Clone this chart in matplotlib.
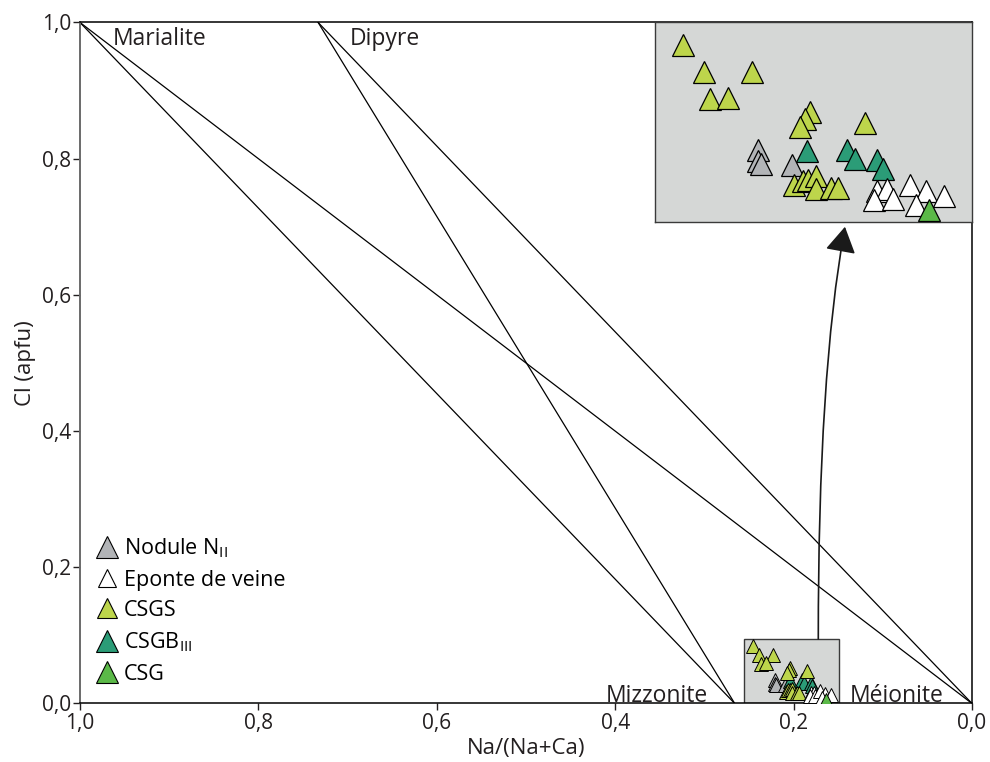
import numpy as np
import matplotlib
matplotlib.use("Agg")
import matplotlib.pyplot as plt
from matplotlib.path import Path
from matplotlib.patches import Rectangle, FancyArrowPatch
from matplotlib.lines import Line2D

plt.rcParams["font.family"] = ["Open Sans", "DejaVu Sans"]
plt.rcParams["mathtext.fontset"] = "custom"
plt.rcParams["mathtext.rm"] = "Open Sans"
plt.rcParams["mathtext.it"] = "Open Sans"

# %% data

# end-members of the scapolite series: Na/(Na+Ca), Cl
endmember_names = ["Marialite", "Dipyre", "Mizzonite", "Méionite"]
endmember_x = [1.0, 0.733, 0.266, 0.0]
endmember_y = [1.0, 1.0, 0.0, 0.0]
tie_lines = [(0, 2), (0, 3), (1, 2), (1, 3)]

nodule_x = [0.221, 0.221, 0.220, 0.2095]
nodule_y = [0.034, 0.029, 0.0275, 0.027]

eponte_x = [0.181, 0.1775, 0.182, 0.1755, 0.170, 0.1645, 0.1585, 0.168]
eponte_y = [0.0147, 0.0157, 0.0105, 0.011, 0.0176, 0.0144, 0.012, 0.008]

csgs_x = [0.246, 0.239, 0.223, 0.237, 0.231, 0.2035, 0.205, 0.207,
          0.185, 0.209, 0.206, 0.204, 0.2015, 0.2015, 0.1965, 0.194]
csgs_y = [0.084, 0.071, 0.071, 0.0585, 0.059, 0.052, 0.049, 0.045,
          0.047, 0.0175, 0.0195, 0.020, 0.0215, 0.0155, 0.016, 0.016]

csgb_x = [0.2045, 0.191, 0.1885, 0.181, 0.179]
csgb_y = [0.0335, 0.034, 0.030, 0.0295, 0.025]

csg_x = [0.1635]
csg_y = [0.0057]

ticks = [0.0, 0.2, 0.4, 0.6, 0.8, 1.0]
tick_labels = ["0,0", "0,2", "0,4", "0,6", "0,8", "1,0"]

# zoom window (data) and where it is magnified
zoom_x = (0.2556, 0.1491)
zoom_y = (0.0, 0.0947)
mag_x0, mag_y0 = 0.3556, 0.7075

# %% styles
series = [
    (nodule_x, nodule_y, "#b2b4b7", r"Nodule N$_{\mathrm{II}}$", 16),
    (csgb_x, csgb_y, "#2b9c77", r"CSGB$_{\mathrm{III}}$", 16),
    (csgs_x, csgs_y, "#bdd54b", "CSGS", 14),
    (eponte_x, eponte_y, "#ffffff", "Eponte de veine", 12.5),
    (csg_x, csg_y, "#5bb948", "CSG", 16),
]
legend_order = [0, 3, 2, 1, 4]
box_color = "#d5d7d6"
text_color = "#231f20"

# %% figure
fig = plt.figure(figsize=(9.9, 7.62), dpi=100)
ax = fig.add_axes([0.0808, 0.0768, 0.9010, 0.8937])

for i, j in tie_lines:
    ax.plot([endmember_x[i], endmember_x[j]], [endmember_y[i], endmember_y[j]],
            color="k", lw=0.9, zorder=1)

ax.text(endmember_x[0] - 0.037, endmember_y[0] - 0.033, endmember_names[0],
        fontsize=16.5, ha="left", va="baseline", color=text_color)
ax.text(endmember_x[1] - 0.035, endmember_y[1] - 0.033, endmember_names[1],
        fontsize=16.5, ha="left", va="baseline", color=text_color)
ax.text(endmember_x[2] + 0.030, endmember_y[2] + 0.002, endmember_names[2],
        fontsize=16.5, ha="right", va="baseline", color=text_color)
ax.text(endmember_x[3] + 0.137, endmember_y[3] + 0.002, endmember_names[3],
        fontsize=16.5, ha="left", va="baseline", color=text_color)

# small zoom window
ax.add_patch(Rectangle((zoom_x[0], zoom_y[0]), zoom_x[1] - zoom_x[0],
                       zoom_y[1] - zoom_y[0], facecolor=box_color,
                       edgecolor="#3a3a3a", lw=1.0, zorder=2))
for xs, ys, c, lab, ms in series:
    ax.plot(xs, ys, ls="none", marker="^", ms=9.5, mfc=c, mec="k",
            mew=0.7, zorder=3)

# curved arrow to the magnified window
arrow_path = Path(
    [(0.1723, zoom_y[1]), (0.1726, 0.482), (0.1424, 0.700)],
    [Path.MOVETO, Path.CURVE3, Path.CURVE3],
)
arrow = FancyArrowPatch(
    path=arrow_path,
    arrowstyle="-|>,head_length=1.6,head_width=0.95",
    mutation_scale=10, color="#1a1a1a", lw=1.2, shrinkA=0, shrinkB=0,
    transform=ax.transData, zorder=4,
)
ax.add_patch(arrow)

ax.set_xlim(1.0, 0.0)
ax.set_ylim(0.0, 1.0)
ax.set_xticks(ticks)
ax.set_xticklabels(tick_labels)
ax.set_yticks(ticks)
ax.set_yticklabels(tick_labels)
ax.tick_params(direction="out", length=5, width=1, labelsize=15,
               pad=1.5, colors=text_color)
ax.set_xlabel("Na/(Na+Ca)", fontsize=16, labelpad=3, color=text_color)
ax.set_ylabel("Cl (apfu)", fontsize=16, labelpad=4, color=text_color)
for s in ["top", "right", "bottom"]:
    ax.spines[s].set_color("k")
    ax.spines[s].set_linewidth(1.1)
ax.spines["left"].set_color("#6a6a6a")
ax.spines["left"].set_linewidth(1.4)

# magnified window
axin = ax.inset_axes([1 - mag_x0, mag_y0, mag_x0, 1 - mag_y0])
axin.set_facecolor(box_color)
for xs, ys, c, lab, ms in series:
    axin.plot(xs, ys, ls="none", marker="^", ms=16.5, mfc=c, mec="k",
              mew=0.9, zorder=3)
axin.set_xlim(*zoom_x)
axin.set_ylim(*zoom_y)
axin.set_xticks([])
axin.set_yticks([])
for s in axin.spines.values():
    s.set_color("#3a3a3a")
    s.set_linewidth(1.0)

# legend
handles = []
labels = []
for k in legend_order:
    xs, ys, c, lab, ms = series[k]
    handles.append(Line2D([], [], ls="none", marker="^", ms=ms, mfc=c,
                          mec="k", mew=0.8))
    labels.append(lab)
ax.legend(handles, labels, loc="lower left", bbox_to_anchor=(0.0056, 0.012),
          frameon=False, fontsize=15.5, handlelength=1.0, handletextpad=0.3,
          labelspacing=0.44, borderaxespad=0.3, borderpad=0.2)

fig.savefig("out.png", dpi=100)
